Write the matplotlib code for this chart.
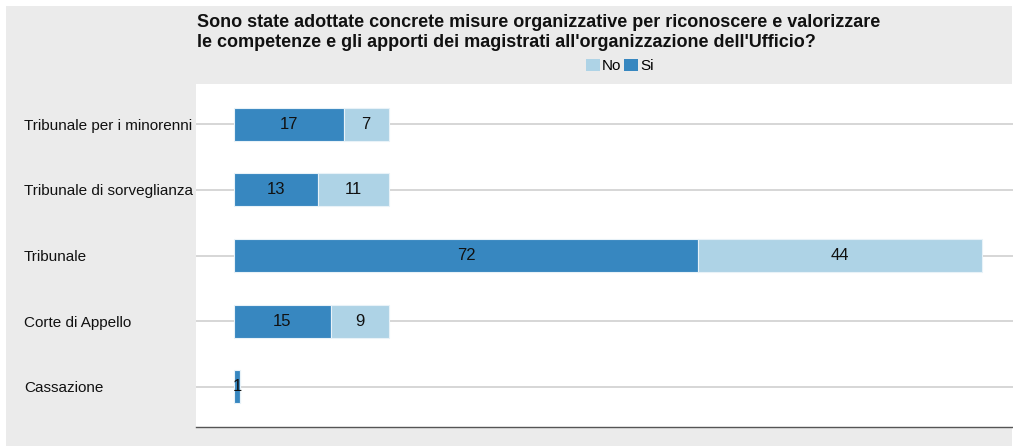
import matplotlib
matplotlib.use('Agg')
import matplotlib.pyplot as plt
from matplotlib.patches import Rectangle, Patch

plt.rcParams['font.family'] = ['Liberation Sans', 'DejaVu Sans']

categories = ['Cassazione', 'Corte di Appello', 'Tribunale',
              'Tribunale di sorveglianza', 'Tribunale per i minorenni']
si_values = [1, 15, 72, 13, 17]
no_values = [0, 9, 44, 11, 7]

title = ("Sono state adottate concrete misure organizzative per riconoscere e valorizzare\n"
         "le competenze e gli apporti dei magistrati all'organizzazione dell'Ufficio?")

col_si = '#3787c0'
col_no = '#aed3e6'
bg = '#ebebeb'

W, H = 1013, 446
fig = plt.figure(figsize=(W / 100, H / 100), dpi=100)
fig.patch.set_facecolor('white')
# gray outer background with thin white border top/left
fig.patches.append(Rectangle((6 / W, 0), (1012 - 6) / W, (H - 6) / H,
                             transform=fig.transFigure, facecolor=bg,
                             edgecolor='none', zorder=-10))

ax = fig.add_axes([196 / W, (H - 427) / H, (1013 - 196) / W, (427 - 84) / H])
ax.set_facecolor('white')

y = list(range(len(categories)))
for yy in y:
    ax.axhline(yy, color='#d0d0d0', linewidth=1.2, zorder=1)

ax.barh(y, si_values, height=0.5, color=col_si, edgecolor='#e8f2f8',
        linewidth=0.8, zorder=2)
ax.barh(y, no_values, left=si_values, height=0.5, color=col_no,
        edgecolor='#e8f2f8', linewidth=0.8, zorder=2)

for yy, s, n in zip(y, si_values, no_values):
    if s > 0:
        ax.text(s / 2, yy, str(s), ha='center', va='center', fontsize=12,
                color='#111111', zorder=3)
    if n > 0:
        ax.text(s + n / 2, yy, str(n), ha='center', va='center', fontsize=12,
                color='#111111', zorder=3)

ax.set_xlim(-5.9, 120.8)
ax.set_ylim(-0.61, 4.61)
ax.set_yticks(y)
ax.set_yticklabels(categories, fontsize=11, color='#111111')
# left-aligned category labels starting near x=24px
ax.tick_params(axis='y', length=0, pad=(196 - 24) * 0.72)
for lab in ax.get_yticklabels():
    lab.set_horizontalalignment('left')
ax.set_xticks([])
for side in ['top', 'right', 'left']:
    ax.spines[side].set_visible(False)
ax.spines['bottom'].set_color('#555555')
ax.spines['bottom'].set_linewidth(1.0)

fig.text(197 / W, 1 - 14 / H, title, ha='left', va='top', fontsize=13,
         fontweight='bold', color='#111111', linespacing=1.2)

handles = [Patch(facecolor=col_no, edgecolor='none', label='No'),
           Patch(facecolor=col_si, edgecolor='none', label='Si')]
fig.legend(handles=handles, loc='center', bbox_to_anchor=(620 / W, 1 - 66 / H),
           ncol=2, frameon=False, fontsize=11, handlelength=0.9,
           handleheight=0.9, handletextpad=0.15, columnspacing=0.2,
           borderpad=0)

fig.savefig('out.png', dpi=100)
